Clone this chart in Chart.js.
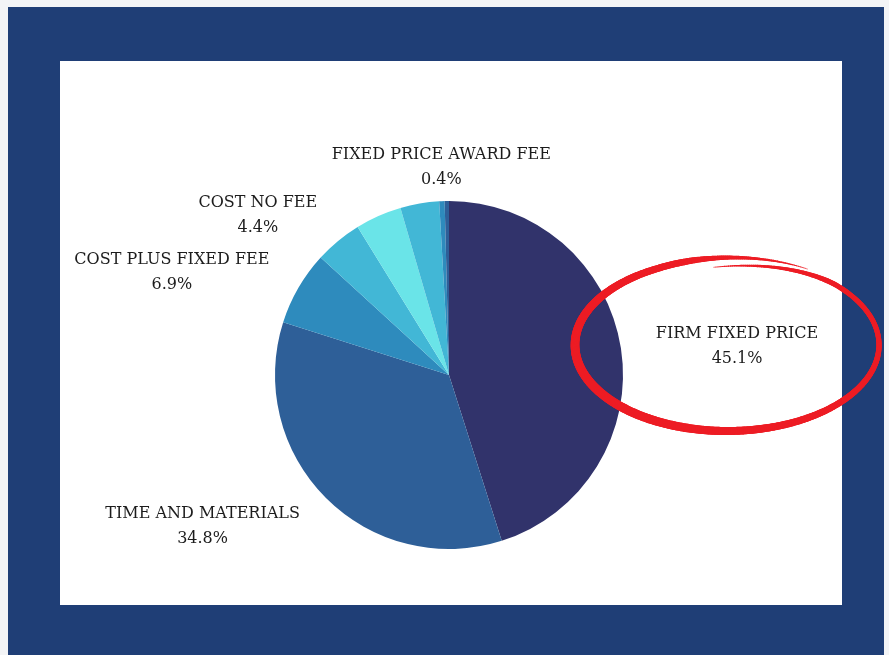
<!DOCTYPE html>
<html>
<head>
<meta charset="utf-8">
<script src="https://cdn.jsdelivr.net/npm/chart.js@4"></script>
<style>
  html, body { margin: 0; padding: 0; background: #f3f4f6; width: 889px; height: 655px; overflow: hidden; }
  .frame { position: absolute; left: 8px; top: 7px; width: 876px; height: 648px; background: #1f3e76; }
  .panel { position: absolute; left: 60px; top: 61px; width: 782px; height: 544px; background: #fff; }
  canvas { position: absolute; left: 0; top: 0; }
  #marker { position: absolute; left: 0; top: 0; pointer-events: none; }
</style>
</head>
<body>
<div class="frame"></div>
<div class="panel"><canvas id="pie" width="782" height="544"></canvas></div>
<canvas id="marker" width="889" height="655"></canvas>
<script>
// ── contract type shares (%) ──
const categories = ['FIRM FIXED PRICE', 'TIME AND MATERIALS', 'COST PLUS FIXED FEE', 'COST NO FEE', 'OTHER 1', 'OTHER 2', 'OTHER 3', 'FIXED PRICE AWARD FEE'];
const shares = [45.1, 34.8, 6.9, 4.4, 4.3, 3.6, 0.5, 0.4];
const showLabel = [true, true, true, true, false, false, false, true];
const sliceColors = ['#31336b', '#2e5f98', '#2e8bbd', '#42b7d6', '#6ae4e8', '#42b7d6', '#2e8bbd', '#2e5f98'];

// label placement: angle shift (deg) from slice middle, distance in radii
const labelShift = [3, 13.5, -9.6, -10.4, 0, 0, 0, -1.4];
const labelDist = [1.664, 1.661, 1.70, 1.434, 1.5, 1.5, 1.5, 1.195];

const FONT = '16px "Roboto Slab", "DejaVu Serif", serif';

const sliceLabels = {
  id: 'sliceLabels',
  afterDatasetsDraw(chart) {
    const ctx = chart.ctx;
    const meta = chart.getDatasetMeta(0);
    const total = shares.reduce((s, v) => s + v, 0);
    ctx.save();
    ctx.font = FONT;
    ctx.fillStyle = '#1c1c1c';
    ctx.textAlign = 'center';
    ctx.textBaseline = 'alphabetic';
    meta.data.forEach((arc, i) => {
      if (!showLabel[i]) return;
      const mid = (arc.startAngle + arc.endAngle) / 2 + labelShift[i] * Math.PI / 180;
      const r = arc.outerRadius * labelDist[i];
      const x = arc.x + Math.cos(mid) * r;
      const y = arc.y + Math.sin(mid) * r;
      ctx.fillText(categories[i], x, y - 8);
      ctx.fillText((shares[i] / total * 100).toFixed(1) + '%', x, y + 17);
    });
    ctx.restore();
  }
};

new Chart(document.getElementById('pie'), {
  type: 'pie',
  data: {
    labels: categories,
    datasets: [{ data: shares, backgroundColor: sliceColors, borderWidth: 0, hoverOffset: 0, radius: 174 }]
  },
  options: {
    responsive: false,
    animation: false,
    layout: { padding: { top: 140, bottom: 56, left: 0, right: 4 } },
    plugins: { legend: { display: false }, tooltip: { enabled: false } }
  },
  plugins: [sliceLabels]
});

// hand-drawn red highlight round the biggest slice label
(function drawMarker() {
  const ctx = document.getElementById('marker').getContext('2d');
  const cx = 727, cy = 345, rx = 152, ry = 86;
  const t0 = -95 * Math.PI / 180, t1 = (360 - 58) * Math.PI / 180;
  const steps = 500;
  ctx.strokeStyle = '#ed1c24';
  ctx.lineCap = 'round';
  let prev = null;
  for (let k = 0; k <= steps; k++) {
    const f = k / steps;
    const t = t0 + (t1 - t0) * f;
    const inset = Math.max(0, 1 - f * 8) * 8;
    const x = cx + Math.cos(t) * rx;
    const y = cy + Math.sin(t) * (ry - inset) + (f > 0.85 ? -(f - 0.85) * 20 : 0);
    if (prev) {
      const taper = Math.min(1, f / 0.12, (1 - f) / 0.12);
      const w = 6.5 + 2 * Math.cos(t - 150 * Math.PI / 180);
      ctx.lineWidth = 0.5 + w * taper;
      ctx.beginPath();
      ctx.moveTo(prev[0], prev[1]);
      ctx.lineTo(x, y);
      ctx.stroke();
    }
    prev = [x, y];
  }
})();
</script>
</body>
</html>
